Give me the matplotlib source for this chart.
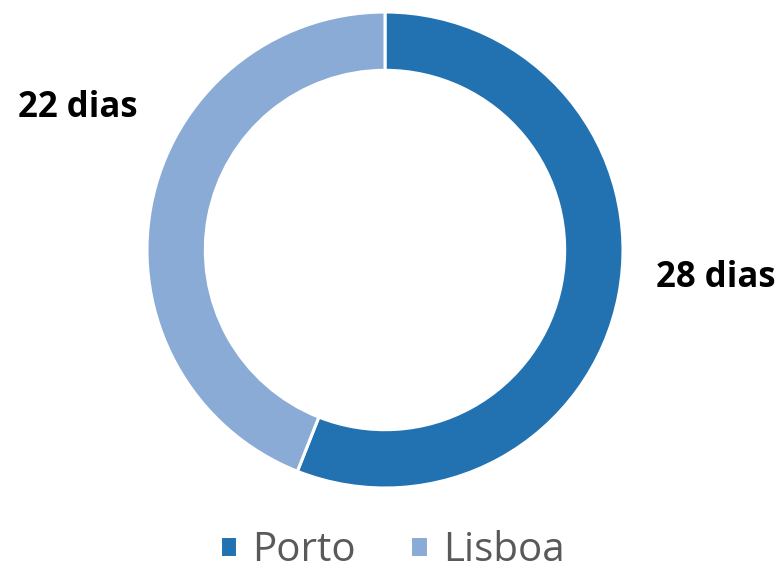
import matplotlib
matplotlib.use("Agg")
import matplotlib.pyplot as plt

categories = ["Porto", "Lisboa"]
values = [28, 22]
labels = ["28 dias", "22 dias"]
colors = ["#2272B1", "#8AABD6"]

plt.rcParams['font.family'] = ['Open Sans', 'DejaVu Sans']

fig = plt.figure(figsize=(7.84, 5.72), dpi=100)
W, H = 784, 572
cx, cy, R = 385, 250, 238
ax = fig.add_axes([(cx - R) / W, (H - cy - R) / H, 2 * R / W, 2 * R / H])
wedges, _ = ax.pie(values, colors=colors, startangle=90, counterclock=False,
                   radius=1.0, wedgeprops=dict(width=0.245, edgecolor="white", linewidth=2.2))
ax.set_xlim(-1, 1)
ax.set_ylim(-1, 1)
ax.set_aspect("equal")
ax.axis("off")

label_pos = [((716 - cx) / R, (cy - 278) / R), ((78 - cx) / R, (cy - 108) / R)]
for lab, (x, y) in zip(labels, label_pos):
    ax.text(x, y, lab, ha="center", va="center", fontsize=25, fontweight="bold",
            color="black", clip_on=False)

fig.legend(wedges, categories, loc="center", bbox_to_anchor=(0.5, 1 - 551 / H),
           ncol=2, frameon=False, fontsize=29, labelcolor="#595959",
           handlelength=0.43, handleheight=0.43, handletextpad=0.38,
           columnspacing=1.35, borderpad=0.0, borderaxespad=0.0)

fig.savefig("out.png", dpi=100)
